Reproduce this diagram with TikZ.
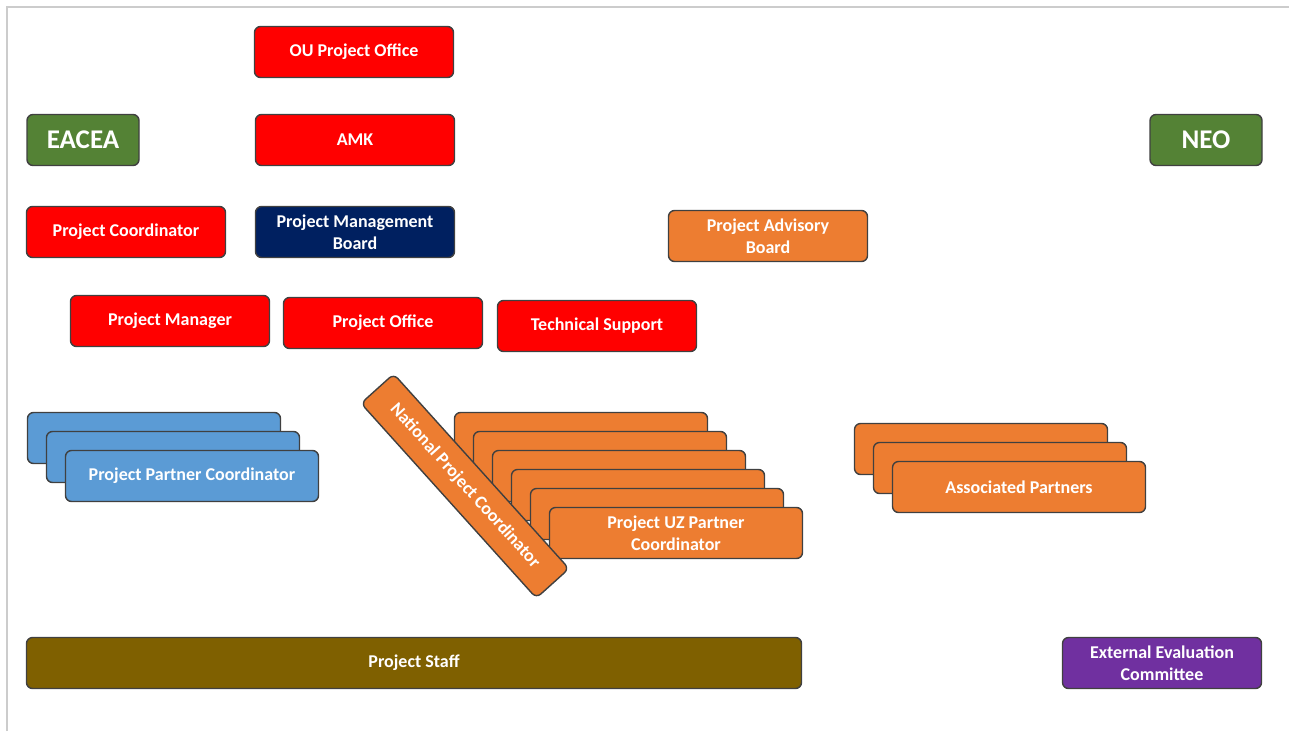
\documentclass[tikz,border=0pt]{standalone}
\usepackage{fontspec}
\setmainfont{Carlito}
\definecolor{redbox}{HTML}{FF0000}
\definecolor{greenbox}{HTML}{548235}
\definecolor{navybox}{HTML}{002060}
\definecolor{orangebox}{HTML}{ED7D31}
\definecolor{bluebox}{HTML}{5B9BD5}
\definecolor{staffbox}{HTML}{7F6000}
\definecolor{purplebox}{HTML}{7030A0}
\begin{document}
\begin{tikzpicture}[x=1pt,y=-1pt,
    box/.style={draw=black!75, line width=1.4pt, rounded corners=6pt, text=white,
        font=\fontsize{18}{22}\selectfont\bfseries, align=center, inner sep=0pt},
    wide/.style={box, minimum width=199pt, minimum height=51pt},
    tag/.style={box, minimum width=112pt, minimum height=51pt, font=\fontsize{27}{29}\selectfont\bfseries},
    stackbox/.style={box, minimum width=253pt, minimum height=51pt}]
    \useasboundingbox (0,0) rectangle (1289,731);
    \draw[gray!40, line width=1.5pt] (7,731) -- (7,7) -- (1289,7);
    \node[wide, fill=redbox] (ouoffice) at (354,52) {OU Project Office};
    \node[wide, fill=redbox] (amk) at (355,140) {AMK};
    \node[tag, fill=greenbox] (eacea) at (83,140) {EACEA};
    \node[tag, fill=greenbox] (neo) at (1206,140) {NEO};
    \node[wide, fill=redbox] (coordinator) at (126,232) {Project Coordinator};
    \node[wide, fill=navybox] (board) at (355,232) {Project Management\\Board};
    \node[wide, fill=orangebox] (advisory) at (768,236) {Project Advisory\\Board};
    \node[wide, fill=redbox] (manager) at (170,321) {Project Manager};
    \node[wide, fill=redbox] (office) at (383,323) {Project Office};
    \node[wide, fill=redbox] (support) at (597,326) {Technical Support};
    % partner stacks
    \foreach \i in {0,1}
        \node[stackbox, fill=bluebox] (partner\i) at ({154+19*\i},{438+19*\i}) {};
    \node[stackbox, fill=bluebox] (partner) at (192,476) {Project Partner Coordinator};
    \foreach \i in {0,...,4}
        \node[stackbox, fill=orangebox] (uz\i) at ({581+19*\i},{438+19*\i}) {};
    \node[stackbox, fill=orangebox] (uz) at (676,533) {Project UZ Partner\\Coordinator};
    \foreach \i in {0,1}
        \node[stackbox, fill=orangebox] (associated\i) at ({981+19*\i},{449+19*\i}) {};
    \node[stackbox, fill=orangebox] (associated) at (1019,487) {Associated Partners};
    \node[box, fill=orangebox, minimum width=262pt, minimum height=44pt, rotate=-48] (national) at (465,486) {National Project Coordinator};
    % bottom row
    \node[box, fill=staffbox, minimum width=775pt, minimum height=51pt] (staff) at (414,663) {Project Staff};
    \node[wide, fill=purplebox] (evaluation) at (1162,663) {External Evaluation\\Committee};
\end{tikzpicture}
\end{document}
